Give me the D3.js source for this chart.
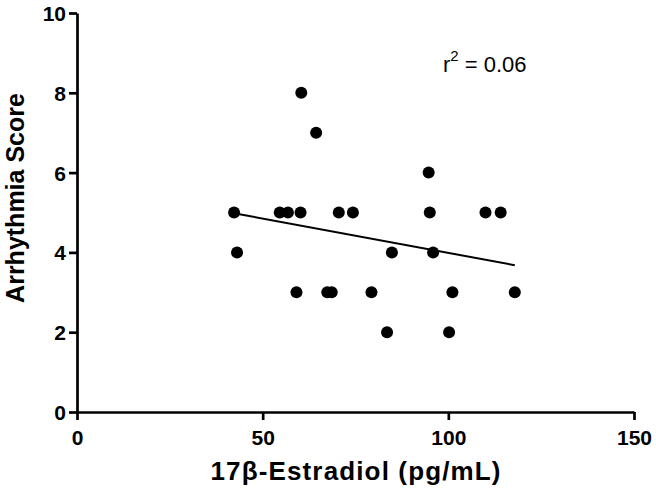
<!DOCTYPE html>
<html>
<head>
<meta charset="utf-8">
<script src="https://cdn.jsdelivr.net/npm/d3@7"></script>
<style>
  body { margin: 0; background: #fff; }
  svg { display: block; font-family: "Liberation Sans", Arial, sans-serif; }
</style>
</head>
<body>
<div id="chart"></div>
<script>
// values
const estradiol = [42.3, 43.1, 54.6, 56.8, 60.2, 60.4, 64.4, 59.1, 67.4, 68.6, 70.5, 74.3,
                   79.3, 83.5, 84.8, 94.7, 95.0, 95.9, 100.2, 101.1, 110.0, 114.1, 117.9];
const score     = [5, 4, 5, 5, 5, 8, 7, 3, 3, 3, 5, 5,
                   3, 2, 4, 6, 5, 4, 2, 3, 5, 5, 3];
const fitX = [42.3, 117.9];
const fitY = [4.98, 3.68];
const xTicks = [0, 50, 100, 150];
const yTicks = [0, 2, 4, 6, 8, 10];
const r2Label = "0.06";

const width = 656, height = 493;
const margin = { top: 13, right: 22, bottom: 81, left: 77 };

const svg = d3.select('#chart').append('svg')
    .attr('width', width)
    .attr('height', height);

const x = d3.scaleLinear().domain([0, 150]).range([margin.left, width - margin.right]);
const y = d3.scaleLinear().domain([0, 10]).range([height - margin.bottom, margin.top]);

// axes
const xAxis = svg.append('g')
    .attr('transform', `translate(0,${height - margin.bottom})`)
    .call(d3.axisBottom(x).tickValues(xTicks).tickSize(8).tickPadding(10).tickSizeOuter(0));

const yAxis = svg.append('g')
    .attr('transform', `translate(${margin.left},0)`)
    .call(d3.axisLeft(y).tickValues(yTicks).tickSize(8).tickPadding(3).tickSizeOuter(0));

[xAxis, yAxis].forEach(g => {
    g.select('.domain').attr('stroke', '#000').attr('stroke-width', 2.7);
    g.selectAll('.tick line').attr('stroke', '#000').attr('stroke-width', 2.7);
    g.selectAll('.tick text')
        .attr('fill', '#000')
        .style('font-size', '21px')
        .style('font-weight', 'bold')
        .style('font-family', '"Liberation Sans", Arial, sans-serif');
});
yAxis.selectAll('.tick text').attr('dy', '0.36em');

// regression line
svg.append('line')
    .attr('x1', x(fitX[0])).attr('y1', y(fitY[0]))
    .attr('x2', x(fitX[1])).attr('y2', y(fitY[1]))
    .attr('stroke', '#000')
    .attr('stroke-width', 2);

// points
svg.append('g')
    .selectAll('circle')
    .data(estradiol.map((d, i) => [d, score[i]]))
    .join('circle')
    .attr('cx', d => x(d[0]))
    .attr('cy', d => y(d[1]))
    .attr('r', 6)
    .attr('fill', '#000');

// r^2 annotation
const r2 = svg.append('text')
    .attr('x', 443)
    .attr('y', 72)
    .style('font-size', '22px')
    .attr('fill', '#000');
r2.append('tspan').text('r');
r2.append('tspan').attr('dy', -11).style('font-size', '15px').text('2');
r2.append('tspan').attr('dy', 11).text(' = ' + r2Label);

// axis titles
svg.append('text')
    .attr('x', (x(0) + x(150)) / 2)
    .attr('y', 480)
    .attr('text-anchor', 'middle')
    .attr('textLength', 290)
    .attr('lengthAdjust', 'spacing')
    .style('font-size', '26px')
    .style('font-weight', 'bold')
    .text('17β-Estradiol (pg/mL)');

svg.append('text')
    .attr('transform', `translate(24,198) rotate(-90)`)
    .attr('text-anchor', 'middle')
    .style('font-size', '25px')
    .style('font-weight', 'bold')
    .text('Arrhythmia Score');
</script>
</body>
</html>
